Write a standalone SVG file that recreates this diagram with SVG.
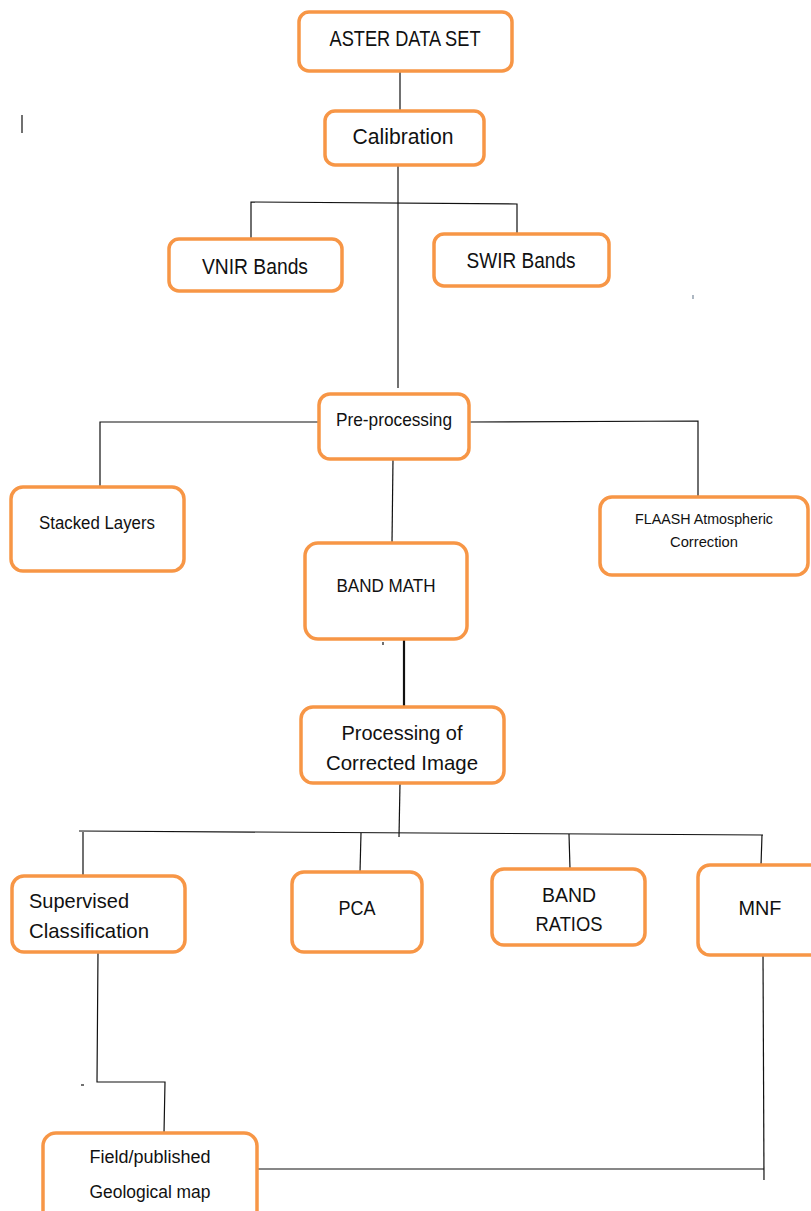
<svg xmlns="http://www.w3.org/2000/svg" width="811" height="1211" viewBox="0 0 811 1211">
<style>
.box{fill:#fff;stroke:#F79646;stroke-width:3.5}
.t{font-family:"Liberation Sans",Arial,sans-serif;fill:#111;text-anchor:middle}
.c{stroke:#111;stroke-width:1.2;fill:none}
</style>
<rect width="811" height="1211" fill="#fff"/>
<g id="connectors">
<line class="c" x1="400" y1="71" x2="400" y2="111"/>
<line class="c" x1="398" y1="165" x2="398" y2="388"/>
<polyline class="c" points="251,239 251,202 517,204 517,234"/>
<polyline class="c" points="100,487 100,422 319,422"/>
<polyline class="c" points="469,422 698,421 698,497"/>
<line class="c" x1="393" y1="459" x2="392" y2="543"/>
<line class="c" x1="404" y1="639" x2="404" y2="707" style="stroke-width:2.2"/>
<line class="c" x1="400" y1="783" x2="399" y2="837"/>
<line class="c" x1="79" y1="831" x2="763" y2="835"/>
<line class="c" x1="83" y1="832" x2="83" y2="876"/>
<line class="c" x1="361" y1="833" x2="360" y2="872"/>
<line class="c" x1="569" y1="834" x2="570" y2="869"/>
<line class="c" x1="762" y1="835" x2="761" y2="865"/>
<polyline class="c" points="98,952 97,1082 165,1082 164,1133"/>
<polyline class="c" points="763,955 764,1180"/>
<line class="c" x1="257" y1="1169" x2="764" y2="1169"/>
<line class="c" x1="22" y1="115" x2="22" y2="133"/>
<line class="c" x1="693" y1="295" x2="693" y2="299" style="stroke:#789"/>
<line class="c" x1="81" y1="1085" x2="84" y2="1085"/>
<line class="c" x1="383" y1="642" x2="383" y2="645"/>
</g>
<g id="aster"><rect class="box" x="299" y="12" width="213" height="59" rx="10"/><text class="t" x="405" y="46" font-size="22" textLength="151" lengthAdjust="spacingAndGlyphs">ASTER DATA SET</text></g>
<g id="calibration"><rect class="box" x="325" y="111" width="159" height="54" rx="10"/><text class="t" x="403" y="144" font-size="22" textLength="101" lengthAdjust="spacingAndGlyphs">Calibration</text></g>
<g id="vnir"><rect class="box" x="169" y="239" width="173" height="52" rx="10"/><text class="t" x="255" y="274" font-size="22" textLength="106" lengthAdjust="spacingAndGlyphs">VNIR Bands</text></g>
<g id="swir"><rect class="box" x="434" y="234" width="175" height="52" rx="10"/><text class="t" x="521" y="268" font-size="22" textLength="109" lengthAdjust="spacingAndGlyphs">SWIR Bands</text></g>
<g id="preprocessing"><rect class="box" x="319" y="394" width="150" height="65" rx="11"/><text class="t" x="394" y="426" font-size="18.5" textLength="116" lengthAdjust="spacingAndGlyphs">Pre-processing</text></g>
<g id="stacked"><rect class="box" x="11" y="487" width="173" height="84" rx="12"/><text class="t" x="97" y="529" font-size="17.5" textLength="116" lengthAdjust="spacingAndGlyphs">Stacked Layers</text></g>
<g id="flaash"><rect class="box" x="600" y="497" width="208" height="78" rx="12"/><text class="t" x="704" y="524" font-size="14" textLength="138" lengthAdjust="spacingAndGlyphs">FLAASH Atmospheric</text><text class="t" x="704" y="547" font-size="14" textLength="68" lengthAdjust="spacingAndGlyphs">Correction</text></g>
<g id="bandmath"><rect class="box" x="305" y="543" width="162" height="96" rx="13"/><text class="t" x="386" y="592" font-size="18" textLength="99" lengthAdjust="spacingAndGlyphs">BAND MATH</text></g>
<g id="processing"><rect class="box" x="301" y="707" width="203" height="76" rx="12"/><text class="t" x="402" y="740" font-size="21" textLength="121" lengthAdjust="spacingAndGlyphs">Processing of</text><text class="t" x="402" y="770" font-size="21" textLength="152" lengthAdjust="spacingAndGlyphs">Corrected Image</text></g>
<g id="supervised"><rect class="box" x="12" y="876" width="173" height="76" rx="12"/><text class="t" x="79" y="908" font-size="21" textLength="100" lengthAdjust="spacingAndGlyphs">Supervised</text><text class="t" x="89" y="938" font-size="21" textLength="120" lengthAdjust="spacingAndGlyphs">Classification</text></g>
<g id="pca"><rect class="box" x="292" y="872" width="130" height="80" rx="12"/><text class="t" x="357" y="915" font-size="20.5" textLength="37" lengthAdjust="spacingAndGlyphs">PCA</text></g>
<g id="bandratios"><rect class="box" x="492" y="869" width="153" height="76" rx="12"/><text class="t" x="569" y="902" font-size="21" textLength="54" lengthAdjust="spacingAndGlyphs">BAND</text><text class="t" x="569" y="931" font-size="21" textLength="67" lengthAdjust="spacingAndGlyphs">RATIOS</text></g>
<g id="mnf"><rect class="box" x="698" y="865" width="125" height="90" rx="12"/><text class="t" x="760" y="915" font-size="21" textLength="43" lengthAdjust="spacingAndGlyphs">MNF</text></g>
<g id="geomap"><rect class="box" x="43" y="1133" width="214" height="95" rx="13"/><text class="t" x="150" y="1163" font-size="17.5" textLength="121" lengthAdjust="spacingAndGlyphs">Field/published</text><text class="t" x="150" y="1198" font-size="17.5" textLength="121" lengthAdjust="spacingAndGlyphs">Geological map</text></g>
</svg>
